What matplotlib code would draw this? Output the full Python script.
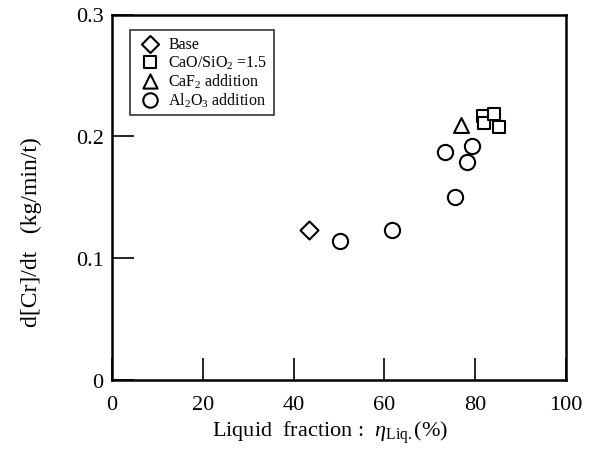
import matplotlib
matplotlib.use("Agg")
import matplotlib.pyplot as plt

plt.rcParams['font.family'] = ['Liberation Serif', 'DejaVu Serif']
plt.rcParams['mathtext.fontset'] = 'custom'
plt.rcParams['mathtext.rm'] = 'Liberation Serif'
plt.rcParams['mathtext.it'] = 'Liberation Serif:italic'

# Data
base_x = [43.5]
base_y = [0.123]
cao_x = [81.7, 82.0, 84.2, 85.3]
cao_y = [0.217, 0.211, 0.218, 0.208]
caf_x = [76.8]
caf_y = [0.209]
al_x = [50.2, 61.7, 75.6, 73.3, 79.2, 78.1]
al_y = [0.114, 0.123, 0.150, 0.187, 0.192, 0.179]

labels = ["Base", "CaO/SiO$_2$ =1.5", "CaF$_2$ addition", "Al$_2$O$_3$ addition"]
x_ticks = [0, 20, 40, 60, 80, 100]
y_ticks = [0, 0.1, 0.2, 0.3]
y_tick_labels = ["0", "0.1", "0.2", "0.3"]

W, H = 601, 456
fig = plt.figure(figsize=(W / 100, H / 100), dpi=100)
ax = fig.add_axes([112 / W, 1 - 381 / H, (566 - 112) / W, (381 - 15.5) / H])

kw = dict(facecolor='white', edgecolor='black', linewidths=1.5, zorder=3)
ax.scatter(base_x, base_y, marker='D', s=84, label=labels[0], **kw)
ax.scatter(cao_x, cao_y, marker='s', s=72, label=labels[1], **kw)
ax.scatter(caf_x, caf_y, marker='^', s=115, label=labels[2], **kw)
ax.scatter(al_x, al_y, marker='o', s=120, label=labels[3], **kw)

ax.set_xlim(0, 100)
ax.set_ylim(0, 0.3)
ax.set_xticks(x_ticks)
ax.set_yticks(y_ticks)
ax.set_yticklabels(y_tick_labels)
ax.tick_params(direction='in', length=16, width=1.2, labelsize=16,
               top=False, right=False)
ax.tick_params(axis='x', pad=11)
ax.tick_params(axis='y', pad=6)
for s in ax.spines.values():
    s.set_linewidth(1.8)

fig.text(330 / W, 1 - 433 / H, r"Liquid  fraction :  $\eta_{\rm Liq.}$(%)",
         fontsize=16, ha='center', va='center')
fig.text(31 / W, 1 - 232 / H, "d[Cr]/dt   (kg/min/t)", fontsize=17,
         rotation=90, ha='center', va='center')

leg = ax.legend(loc='upper left', bbox_to_anchor=(18 / 454, 1 - 15.5 / 365.5),
                borderaxespad=0, fontsize=11.5,
                frameon=True, fancybox=False, edgecolor='black',
                handletextpad=0.3, borderpad=0.4, labelspacing=0.05,
                markerscale=0.95, handlelength=1.7)
leg.get_frame().set_linewidth(1.2)

fig.savefig("out.png", dpi=100)
